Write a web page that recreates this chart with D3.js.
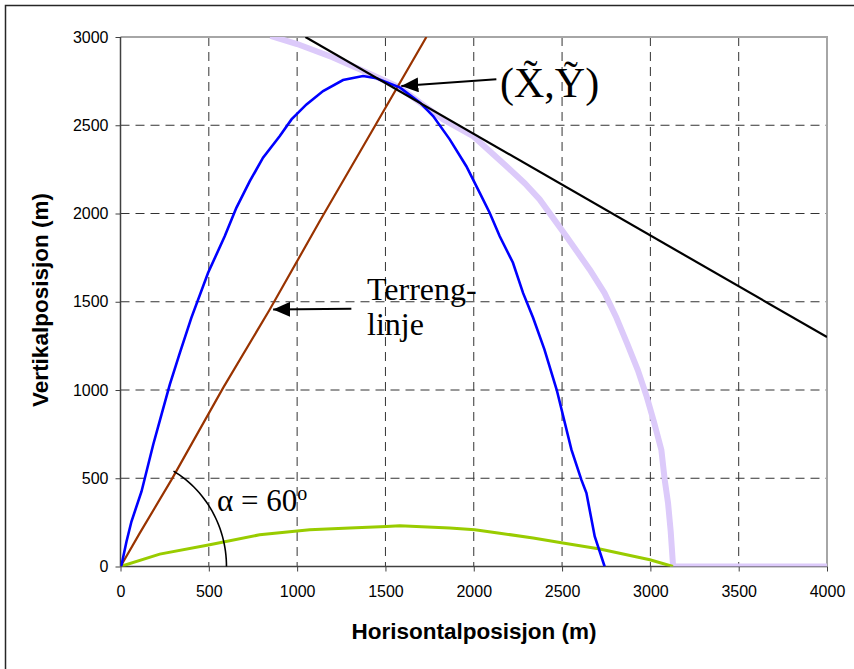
<!DOCTYPE html>
<html>
<head>
<meta charset="utf-8">
<script src="https://cdn.jsdelivr.net/npm/d3@7/dist/d3.min.js"></script>
<style>
  html, body { margin: 0; padding: 0; background: #fff; }
  svg { display: block; }
  .tick text { font-family: Arial, "Liberation Sans", sans-serif; font-size: 16px; fill: #000; }
  .serif { font-family: "Times New Roman", "Liberation Serif", serif; fill: #000; }
</style>
</head>
<body>
<svg id="chart" width="854" height="669"></svg>
<script>
// Axis ticks
const xTicks = [0, 500, 1000, 1500, 2000, 2500, 3000, 3500, 4000];
const yTicks = [0, 500, 1000, 1500, 2000, 2500, 3000];

// Steep trajectory (x, y) in metres
const steepX = [0, 6, 34, 62, 119, 185, 232, 279, 336, 401, 496, 590, 656, 732, 807, 902, 968, 1053, 1147, 1260, 1373, 1449, 1583, 1696, 1770, 1864, 1958, 2034, 2090, 2147, 2222, 2279, 2336, 2400, 2470, 2553, 2609, 2638, 2685, 2741];
const steepY = [0, 10, 142, 255, 425, 690, 860, 1030, 1210, 1409, 1664, 1871, 2032, 2183, 2316, 2439, 2533, 2618, 2694, 2756, 2779, 2766, 2713, 2628, 2552, 2420, 2268, 2117, 2004, 1871, 1721, 1550, 1409, 1230, 1000, 662, 492, 416, 170, 0];

// Flat trajectory
const flatX = [0, 222, 505, 788, 1071, 1298, 1505, 1581, 1864, 2006, 2147, 2336, 2505, 2714, 2997, 3128];
const flatY = [0, 70, 123, 180, 208, 218, 227, 231, 218, 208, 189, 161, 133, 99, 38, 0];

// Envelope of all trajectories
const envX = [849, 1000, 1200, 1354, 1581, 1700, 1826, 1996, 2185, 2290, 2373, 2524, 2656, 2740, 2808, 2870, 2930, 2980, 3020, 3062, 3081, 3100, 3115, 3128, 3128, 4000];
const envY = [3006, 2960, 2885, 2817, 2714, 2625, 2533, 2439, 2268, 2170, 2080, 1871, 1683, 1550, 1409, 1260, 1110, 960, 820, 662, 492, 360, 200, 10, 0, 0];

// Terrain line (slope 60 degrees)
const terrainX = [0, 109, 289, 581, 845, 1130, 1420, 1732];
const terrainY = [0, 189, 492, 1012, 1456, 1960, 2460, 3000];

// Tangent line through the touching point
const tangentX = [1047, 4000];
const tangentY = [3000, 1300];

// Slope angle marker
const angleDeg = 60;
const angleRadius = 600;

const svg = d3.select("#chart");
const pLeft = 120.5, pRight = 827, pTop = 37, pBottom = 566.5;
const x = d3.scaleLinear().domain([0, 4000]).range([pLeft, pRight]);
const y = d3.scaleLinear().domain([0, 3000]).range([pBottom, pTop]);

// Outer frame
svg.append("rect").attr("x", 5.5).attr("y", 5.5).attr("width", 870).attr("height", 690)
  .attr("fill", "none").attr("stroke", "#262626").attr("stroke-width", 1.5);

const defs = svg.append("defs");
defs.append("clipPath").attr("id", "plot")
  .append("rect").attr("x", pLeft).attr("y", pTop).attr("width", pRight - pLeft).attr("height", pBottom - pTop);

// Gridlines
const grid = svg.append("g");
grid.selectAll(".vg").data(xTicks.filter(d => d > 0 && d < 4000)).join("line")
  .attr("x1", d => x(d)).attr("x2", d => x(d)).attr("y1", pTop).attr("y2", pBottom)
  .attr("stroke", "#333").attr("stroke-width", 1).attr("stroke-dasharray", "9,6");
grid.selectAll(".hg").data(yTicks.filter(d => d > 0 && d < 3000)).join("line")
  .attr("x1", pLeft).attr("x2", pRight).attr("y1", d => y(d)).attr("y2", d => y(d))
  .attr("stroke", "#333").attr("stroke-width", 1).attr("stroke-dasharray", "9,6");

// Top and right border
svg.append("path").attr("d", `M${pLeft},${pTop}H${pRight}V${pBottom}`)
  .attr("fill", "none").attr("stroke", "#a6a6a6").attr("stroke-width", 2);

// Axes
const xAxis = svg.append("g").attr("transform", `translate(0,${pBottom})`)
  .call(d3.axisBottom(x).tickValues(xTicks).tickSize(5).tickPadding(14).tickFormat(d3.format("d")));
const yAxis = svg.append("g").attr("transform", `translate(${pLeft},0)`)
  .call(d3.axisLeft(y).tickValues(yTicks).tickSize(5).tickPadding(7).tickFormat(d3.format("d")));
[xAxis, yAxis].forEach(a => {
  a.select(".domain").attr("stroke", "#404040").attr("stroke-width", 1.5);
  a.selectAll(".tick line").attr("stroke", "#404040");
});
xAxis.select(".domain").attr("d", `M${pLeft},0H${pRight}`);
yAxis.select(".domain").attr("d", `M0,${pBottom}V${pTop}`);

const line = d3.line().x(d => x(d[0])).y(d => y(d[1]));
const pairs = (xs, ys) => xs.map((v, i) => [v, ys[i]]);
const plot = svg.append("g").attr("clip-path", "url(#plot)");

plot.append("path").datum(pairs(envX, envY)).attr("d", line)
  .attr("fill", "none").attr("stroke", "#dccafa").attr("stroke-width", 6).attr("stroke-linejoin", "round");
plot.append("path").datum(pairs(flatX, flatY)).attr("d", line)
  .attr("fill", "none").attr("stroke", "#99cc00").attr("stroke-width", 3);
plot.append("path").datum(pairs(terrainX, terrainY)).attr("d", line)
  .attr("fill", "none").attr("stroke", "#993300").attr("stroke-width", 2.2);
plot.append("path").datum(pairs(steepX, steepY)).attr("d", line)
  .attr("fill", "none").attr("stroke", "#0000ff").attr("stroke-width", 2.6);
plot.append("path").datum(pairs(tangentX, tangentY)).attr("d", line)
  .attr("fill", "none").attr("stroke", "#000").attr("stroke-width", 2.2);

// Angle arc
const arcPts = d3.range(0, angleDeg + 0.5, 2).map(a => {
  const r = a * Math.PI / 180;
  return [angleRadius * Math.cos(r), angleRadius * Math.sin(r) * 1.04];
});
svg.append("path").datum(arcPts).attr("d", line)
  .attr("fill", "none").attr("stroke", "#000").attr("stroke-width", 1.6);

// Arrows
defs.append("marker").attr("id", "head").attr("markerUnits", "userSpaceOnUse")
  .attr("viewBox", "0 0 17 15").attr("refX", 17).attr("refY", 7.5)
  .attr("markerWidth", 17).attr("markerHeight", 15).attr("orient", "auto")
  .append("path").attr("d", "M0,0L17,7.5L0,15Z").attr("fill", "#000");

svg.append("line").attr("x1", x(2128)).attr("y1", y(2760)).attr("x2", x(1590)).attr("y2", y(2722))
  .attr("stroke", "#000").attr("stroke-width", 2).attr("marker-end", "url(#head)");
svg.append("line").attr("x1", x(1307)).attr("y1", y(1460)).attr("x2", x(864)).attr("y2", y(1456))
  .attr("stroke", "#000").attr("stroke-width", 2).attr("marker-end", "url(#head)");

// Labels
svg.append("text").attr("class", "serif").attr("x", 500).attr("y", 97)
  .attr("font-size", 42).text("(X\u0303,Y\u0303)");
const terr = svg.append("text").attr("class", "serif").attr("font-size", 32);
terr.append("tspan").attr("x", 367).attr("y", 300).text("Terreng-");
terr.append("tspan").attr("x", 367).attr("y", 335).text("linje");

const alpha = svg.append("text").attr("class", "serif").attr("x", 217).attr("y", 511).attr("font-size", 31);
alpha.append("tspan").text("\u03b1 = 60");
alpha.append("tspan").attr("font-size", 20).attr("dy", -11).text("o");

// Axis titles
svg.append("text").attr("x", 474).attr("y", 639).attr("text-anchor", "middle")
  .style("font-family", "Arial, 'Liberation Sans', sans-serif").style("font-weight", "bold").style("font-size", "22.5px")
  .text("Horisontalposisjon (m)");
svg.append("text").attr("transform", "translate(48,300) rotate(-90)").attr("text-anchor", "middle")
  .style("font-family", "Arial, 'Liberation Sans', sans-serif").style("font-weight", "bold").style("font-size", "22.5px")
  .text("Vertikalposisjon (m)");
</script>
</body>
</html>
